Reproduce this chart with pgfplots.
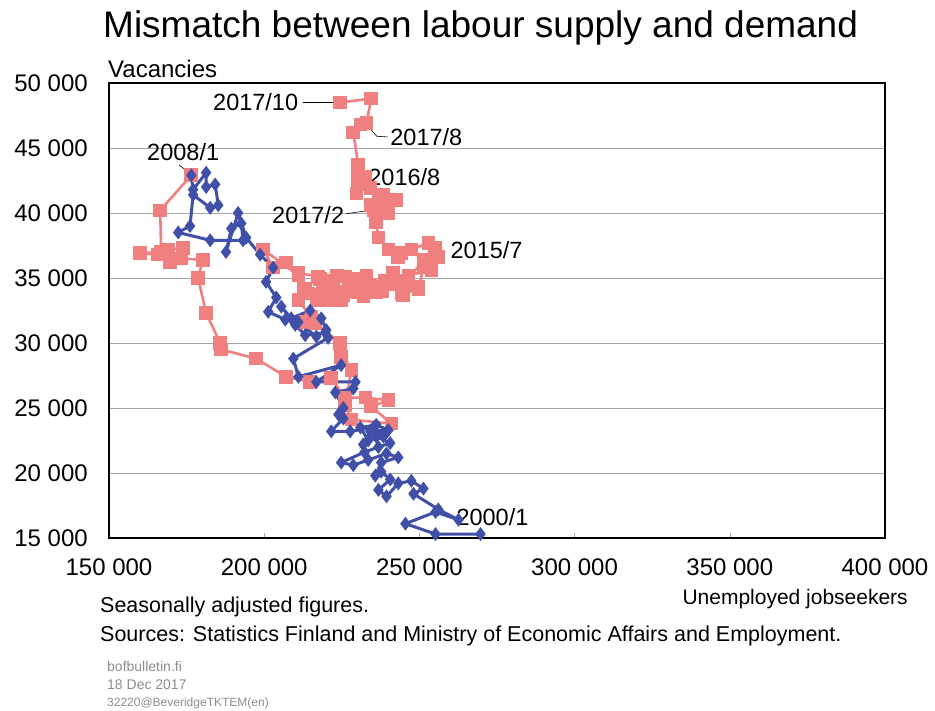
\documentclass[border=0pt]{standalone}
\usepackage{fontspec}
\setmainfont{Liberation Sans}
\usepackage{pgfplots}
\pgfplotsset{compat=1.18}
\definecolor{beveblue}{RGB}{64,80,168}
\definecolor{bevered}{RGB}{240,128,128}
\definecolor{gridgray}{RGB}{165,165,165}
\definecolor{notegray}{RGB}{140,140,140}

% 2000/1 - 2008/1
\pgfplotstableread{
x y
269700 15300
255200 15300
245500 16100
255200 17000
262600 16400
256100 17200
248100 18400
251300 18800
247400 19400
243200 19200
239400 18200
236800 18700
240600 19500
237700 20100
235800 19800
237700 20800
243200 21200
239400 21500
233500 21000
228700 20600
224800 20800
232300 21600
236800 22000
240600 22300
236100 22800
231900 22200
234200 23200
240000 23300
236100 23700
231000 23500
233500 22500
238400 22800
235200 23500
227700 23200
221600 23200
225500 24200
223900 24500
225500 25000
222900 26200
228700 26500
229400 27000
216800 27000
224800 28300
211000 27400
209400 28800
220600 30400
219700 30800
213200 30600
210000 31400
205500 32800
208700 31900
214800 32500
218400 31900
220000 31000
216800 30500
211000 31600
206800 31800
201300 32400
203900 33500
200600 34700
202900 35800
198700 36800
194200 38100
191600 40000
187700 37000
189400 38800
192600 39200
193200 37900
182600 37900
172300 38500
176100 39000
177100 41400
182600 40400
185200 40600
184200 42200
181300 42000
181300 43100
177100 41800
176500 42900
}\oldperiod

% 2008/1 - 2017/10
\pgfplotstableread{
x y
176500 42900
166500 40200
166800 37000
160000 36900
165800 36800
169700 36200
169000 37200
173900 37300
173200 36500
180300 36400
178700 35000
181300 32300
185800 30000
186100 29500
197400 28800
207100 27400
214800 27000
221600 27300
226100 25800
232600 25800
240000 25600
234500 25100
241000 23800
228100 24100
226100 25200
228100 27900
224800 28900
224500 30000
216500 31500
213200 31600
215200 32000
211000 33300
211000 35200
199700 37200
202900 35800
207100 36200
211000 35400
217400 35100
213200 34200
218400 33500
223900 33900
221600 34800
226100 35100
219000 34500
214200 33800
216800 33300
222300 34100
218000 34900
223500 35200
227500 34000
232000 33600
229000 34900
228700 34600
224800 33300
230300 33900
234500 34100
237700 34300
231900 34700
227100 34500
231500 34000
236000 33900
233000 35200
220600 33300
225500 33700
234200 34500
239000 34800
241500 35400
238000 34000
243000 34800
244200 33800
249700 34300
244800 33700
240000 34500
246500 35200
253900 35600
255200 36600
244200 36900
252900 37700
253500 36200
256100 36600
251300 35800
249700 34100
245500 34600
251300 36400
255200 37300
252900 36200
247400 37200
243200 36600
240000 37200
236800 38100
236100 39300
240000 40000
242600 41000
238400 41400
232600 42200
229700 41500
230300 42400
230300 43200
232600 42800
234200 41900
238400 41000
236800 40100
234200 40600
239400 40100
235200 40200
236800 41300
231000 42400
230300 43700
228700 46200
231000 46800
232900 46900
234500 48800
224500 48500
}\newperiod

\begin{document}
\begin{tikzpicture}[x=1pt,y=1pt]
\path[use as bounding box] (0,0) rectangle (935,711);
\node[anchor=base west,inner sep=0pt,font=\fontsize{37}{40}\selectfont] at (103,673) {Mismatch between labour supply and demand};
\node[anchor=base west,inner sep=0pt,font=\fontsize{24}{26}\selectfont] at (108,633) {Vacancies};
\node[anchor=base east,inner sep=0pt,font=\fontsize{21}{24}\selectfont] at (908,106) {Unemployed jobseekers};
\node[anchor=base west,inner sep=0pt,font=\fontsize{21.5}{24}\selectfont] at (100,98) {Seasonally adjusted figures.};
\node[anchor=base west,inner sep=0pt,font=\fontsize{21.5}{24}\selectfont] at (100,69) {Sources: Statistics Finland and Ministry of Economic Affairs and Employment.};
\node[anchor=base west,inner sep=0pt,text=notegray,font=\fontsize{14}{16}\selectfont] at (107,39) {bofbulletin.fi};
\node[anchor=base west,inner sep=0pt,text=notegray,font=\fontsize{14}{16}\selectfont] at (107,21) {18 Dec 2017};
\node[anchor=base west,inner sep=0pt,text=notegray,font=\fontsize{12}{14}\selectfont] at (107,4) {32220@BeveridgeTKTEM(en)};

\begin{axis}[
    at={(109pt,173pt)}, anchor=south west,
    scale only axis,
    width=776pt, height=455pt,
    xmin=150000, xmax=400000,
    ymin=15000, ymax=50000,
    scaled ticks=false,
    xtick={150000,200000,250000,300000,350000,400000},
    xticklabels={150 000,200 000,250 000,300 000,350 000,400 000},
    ytick={15000,20000,25000,30000,35000,40000,45000,50000},
    yticklabels={15 000,20 000,25 000,30 000,35 000,40 000,45 000,50 000},
    tick label style={font=\fontsize{24}{26}\selectfont},
    yticklabel style={anchor=east, inner sep=0pt, xshift=-21pt},
    xticklabel style={anchor=north, inner sep=0pt, yshift=-21pt},
    ytick style={draw=none},
    xtick style={draw=gridgray, thin},
    major tick length=5pt,
    tick pos=bottom,
    ymajorgrids,
    grid style={gridgray, line width=0.9pt},
    axis line style={black, line width=1.1pt},
    clip=false,
]
\addplot[bevered, line width=2.6pt, mark=square*, mark size=5.5pt, mark options={bevered}] table[x=x,y=y] {\newperiod};
\addplot[beveblue, line width=3pt, mark=diamond*, mark size=4.5pt, mark options={beveblue}] table[x=x,y=y] {\oldperiod};

\begin{scope}[font=\fontsize{23.5}{26}\selectfont]
\node[anchor=east, inner sep=0pt] at (axis cs:211000,48500) {2017/10};
\draw[black, line width=0.6pt] (axis cs:212500,48500) -- (axis cs:223000,48500);
\node[anchor=west, inner sep=0pt] at (axis cs:240600,45850) {2017/8};
\draw[black, line width=0.6pt] (axis cs:233300,46700) -- (axis cs:236300,45900) -- (axis cs:239800,45850);
\node[anchor=west, inner sep=0pt] at (axis cs:233500,42750) {2016/8};
\node[anchor=east, inner sep=0pt] at (axis cs:225800,39850) {2017/2};
\draw[black, line width=0.6pt] (axis cs:226500,39950) -- (axis cs:234000,40200);
\node[anchor=west, inner sep=0pt] at (axis cs:260000,37150) {2015/7};
\node[inner sep=0pt] at (axis cs:173900,44650) {2008/1};
\draw[black, line width=0.6pt] (axis cs:172600,43700) -- (axis cs:176200,43000);
\node[anchor=west, inner sep=0pt] at (axis cs:261900,16600) {2000/1};
\end{scope}
\end{axis}
\end{tikzpicture}
\end{document}
